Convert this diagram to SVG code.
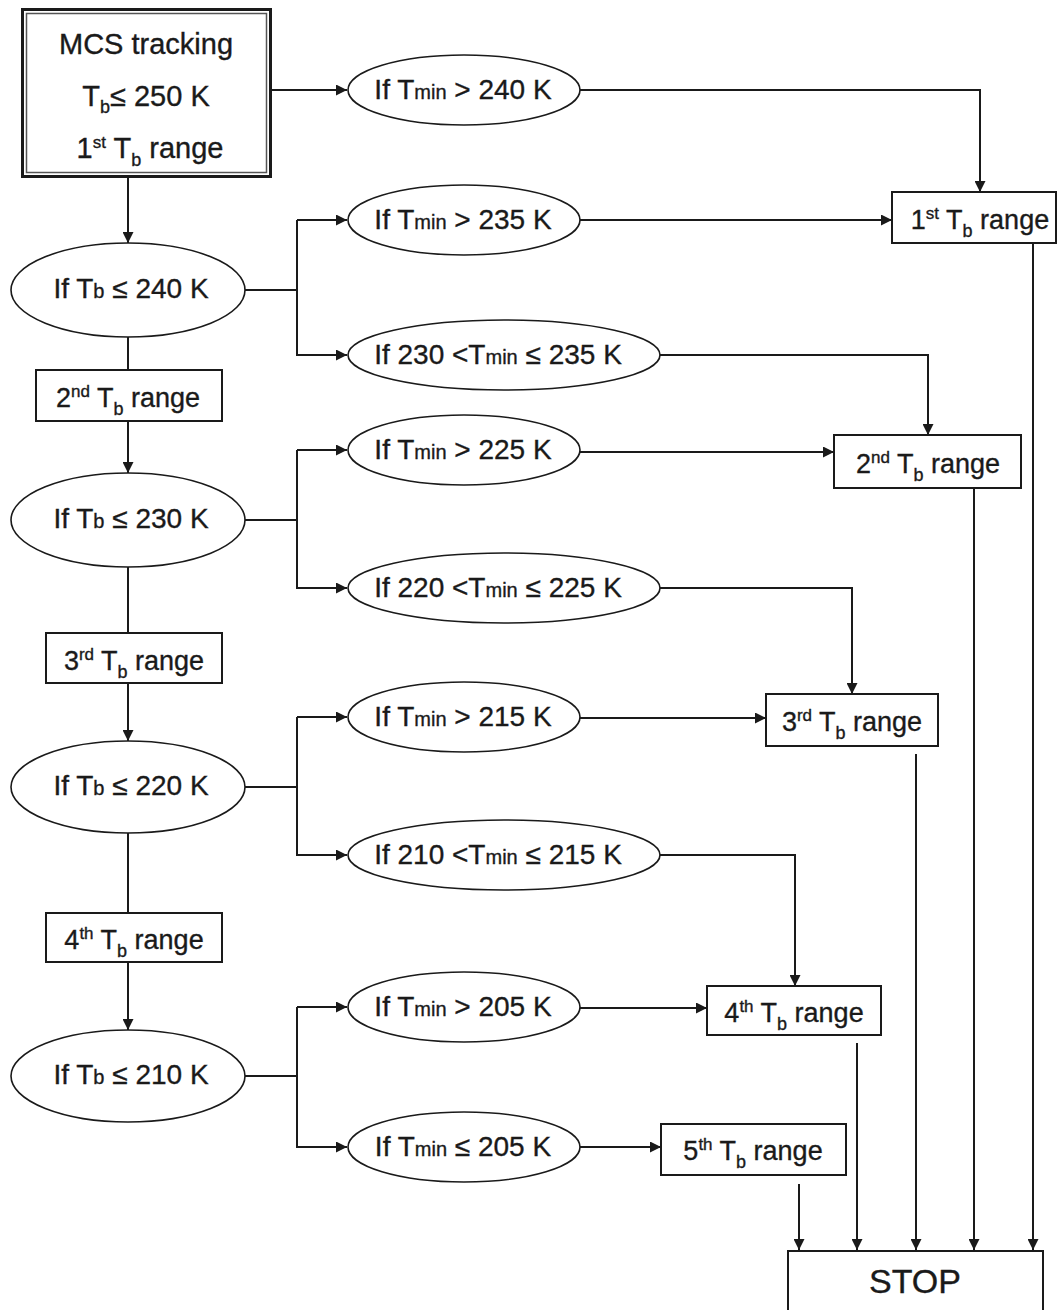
<svg xmlns="http://www.w3.org/2000/svg" width="1060" height="1310" viewBox="0 0 1060 1310">
<style>
text{font-family:"Liberation Sans",Arial,sans-serif;fill:#1a1a1a;text-anchor:middle;stroke:#1a1a1a;stroke-width:0.35}
.t28{font-size:28px}
.t27{font-size:27px}
.sm{font-size:20px}
.sup{font-size:17px}
.sub{font-size:18px}
.node{fill:#fff;stroke:#1a1a1a;stroke-width:2}
.ell{fill:#fff;stroke:#1a1a1a;stroke-width:1.6}
.c{fill:none;stroke:#1a1a1a;stroke-width:2}
.a{fill:none;stroke:#1a1a1a;stroke-width:2;marker-end:url(#ah)}
</style>
<defs>
<marker id="ah" viewBox="0 0 10 10" refX="10" refY="5" markerWidth="13" markerHeight="11" markerUnits="userSpaceOnUse" orient="auto">
<path d="M0,0 L10,5 L0,10 z" fill="#1a1a1a"/>
</marker>
</defs>
<rect width="1060" height="1310" fill="#fff"/>

<g id="connectors">
<path class="a" d="M128,178 V243"/>
<path class="c" d="M128,337 V370"/>
<path class="a" d="M128,421 V473"/>
<path class="c" d="M128,567 V633"/>
<path class="a" d="M128,683 V741"/>
<path class="c" d="M128,833 V913"/>
<path class="a" d="M128,962 V1030"/>

<path class="a" d="M272,90 H347"/>
<path class="c" d="M245,290 H297"/>
<path class="a" d="M297,220 H347"/>
<path class="a" d="M297,220 V355 H347"/>
<path class="c" d="M245,520 H297"/>
<path class="a" d="M297,450 H347"/>
<path class="a" d="M297,450 V588 H347"/>
<path class="c" d="M245,787 H297"/>
<path class="a" d="M297,717 H347"/>
<path class="a" d="M297,717 V855 H347"/>
<path class="c" d="M245,1076 H297"/>
<path class="a" d="M297,1007 H347"/>
<path class="a" d="M297,1007 V1147 H347"/>

<path class="a" d="M580,90 H980 V192"/>
<path class="a" d="M580,220 H892"/>
<path class="a" d="M660,355 H928 V435"/>
<path class="a" d="M580,452 H834"/>
<path class="a" d="M660,588 H852 V694"/>
<path class="a" d="M580,718 H766"/>
<path class="a" d="M660,855 H795 V986"/>
<path class="a" d="M580,1008 H707"/>
<path class="a" d="M580,1147 H661"/>

<path class="a" d="M799,1184 V1250"/>
<path class="a" d="M857,1043 V1250"/>
<path class="a" d="M916,754 V1250"/>
<path class="a" d="M974,488 V1250"/>
<path class="a" d="M1033,243 V1250"/>
</g>

<g id="mcs">
<rect x="22.5" y="9.5" width="248" height="167" fill="#fff" stroke="#1a1a1a" stroke-width="3"/>
<rect x="26.5" y="13.5" width="240" height="159" fill="none" stroke="#555" stroke-width="1.5"/>
<text x="146" y="54" style="font-size:29px">MCS tracking</text>
<text x="146" y="106" style="font-size:29px">T<tspan class="sub" dy="7">b</tspan><tspan dy="-7">≤ 250 K</tspan></text>
<text x="150" y="158" style="font-size:29px">1<tspan class="sup" dy="-10">st</tspan><tspan dy="10"> T</tspan><tspan class="sub" dy="8">b</tspan><tspan dy="-8"> range</tspan></text>
</g>

<g id="tb240"><ellipse class="ell" cx="128" cy="290" rx="117" ry="47"/><text class="t28" x="131" y="298">If T<tspan class="sm">b</tspan> ≤ 240 K</text></g>
<g id="tb230"><ellipse class="ell" cx="128" cy="520" rx="117" ry="47"/><text class="t28" x="131" y="528">If T<tspan class="sm">b</tspan> ≤ 230 K</text></g>
<g id="tb220"><ellipse class="ell" cx="128" cy="787" rx="117" ry="46"/><text class="t28" x="131" y="795">If T<tspan class="sm">b</tspan> ≤ 220 K</text></g>
<g id="tb210"><ellipse class="ell" cx="128" cy="1076" rx="117" ry="46"/><text class="t28" x="131" y="1084">If T<tspan class="sm">b</tspan> ≤ 210 K</text></g>

<g id="l2"><rect class="node" x="36" y="370" width="186" height="51"/><text class="t27" x="128" y="407">2<tspan class="sup" dy="-10">nd</tspan><tspan dy="10"> T</tspan><tspan class="sub" dy="8">b</tspan><tspan dy="-8"> range</tspan></text></g>
<g id="l3"><rect class="node" x="46" y="633" width="176" height="50"/><text class="t27" x="134" y="670">3<tspan class="sup" dy="-10">rd</tspan><tspan dy="10"> T</tspan><tspan class="sub" dy="8">b</tspan><tspan dy="-8"> range</tspan></text></g>
<g id="l4"><rect class="node" x="46" y="913" width="176" height="49"/><text class="t27" x="134" y="949">4<tspan class="sup" dy="-10">th</tspan><tspan dy="10"> T</tspan><tspan class="sub" dy="8">b</tspan><tspan dy="-8"> range</tspan></text></g>

<g id="m240"><ellipse class="ell" cx="464" cy="90" rx="116" ry="35"/><text class="t28" x="463" y="99">If T<tspan class="sm">min</tspan> &gt; 240 K</text></g>
<g id="m235"><ellipse class="ell" cx="464" cy="220" rx="116" ry="35"/><text class="t28" x="463" y="229">If T<tspan class="sm">min</tspan> &gt; 235 K</text></g>
<g id="m230"><ellipse class="ell" cx="504" cy="355" rx="156" ry="35"/><text class="t28" x="498" y="364">If 230 &lt;T<tspan class="sm">min</tspan> ≤ 235 K</text></g>
<g id="m225"><ellipse class="ell" cx="464" cy="450" rx="116" ry="35"/><text class="t28" x="463" y="459">If T<tspan class="sm">min</tspan> &gt; 225 K</text></g>
<g id="m220"><ellipse class="ell" cx="504" cy="588" rx="156" ry="35"/><text class="t28" x="498" y="597">If 220 &lt;T<tspan class="sm">min</tspan> ≤ 225 K</text></g>
<g id="m215"><ellipse class="ell" cx="464" cy="717" rx="116" ry="35"/><text class="t28" x="463" y="726">If T<tspan class="sm">min</tspan> &gt; 215 K</text></g>
<g id="m210"><ellipse class="ell" cx="504" cy="855" rx="156" ry="35"/><text class="t28" x="498" y="864">If 210 &lt;T<tspan class="sm">min</tspan> ≤ 215 K</text></g>
<g id="m205"><ellipse class="ell" cx="464" cy="1007" rx="116" ry="35"/><text class="t28" x="463" y="1016">If T<tspan class="sm">min</tspan> &gt; 205 K</text></g>
<g id="m205b"><ellipse class="ell" cx="464" cy="1147" rx="116" ry="35"/><text class="t28" x="463" y="1156">If T<tspan class="sm">min</tspan> ≤ 205 K</text></g>

<g id="r1"><rect class="node" x="892" y="192" width="164" height="51"/><text class="t27" x="980" y="229">1<tspan class="sup" dy="-10">st</tspan><tspan dy="10"> T</tspan><tspan class="sub" dy="8">b</tspan><tspan dy="-8"> range</tspan></text></g>
<g id="r2"><rect class="node" x="834" y="435" width="187" height="53"/><text class="t27" x="928" y="473">2<tspan class="sup" dy="-10">nd</tspan><tspan dy="10"> T</tspan><tspan class="sub" dy="8">b</tspan><tspan dy="-8"> range</tspan></text></g>
<g id="r3"><rect class="node" x="766" y="694" width="172" height="52"/><text class="t27" x="852" y="731">3<tspan class="sup" dy="-10">rd</tspan><tspan dy="10"> T</tspan><tspan class="sub" dy="8">b</tspan><tspan dy="-8"> range</tspan></text></g>
<g id="r4"><rect class="node" x="707" y="986" width="174" height="49"/><text class="t27" x="794" y="1022">4<tspan class="sup" dy="-10">th</tspan><tspan dy="10"> T</tspan><tspan class="sub" dy="8">b</tspan><tspan dy="-8"> range</tspan></text></g>
<g id="r5"><rect class="node" x="661" y="1124" width="185" height="51"/><text class="t27" x="753" y="1160">5<tspan class="sup" dy="-10">th</tspan><tspan dy="10"> T</tspan><tspan class="sub" dy="8">b</tspan><tspan dy="-8"> range</tspan></text></g>

<g id="stop"><rect class="node" x="788" y="1251" width="255" height="70" stroke-width="3"/><text x="915" y="1293" style="font-size:34px">STOP</text></g>
</svg>
